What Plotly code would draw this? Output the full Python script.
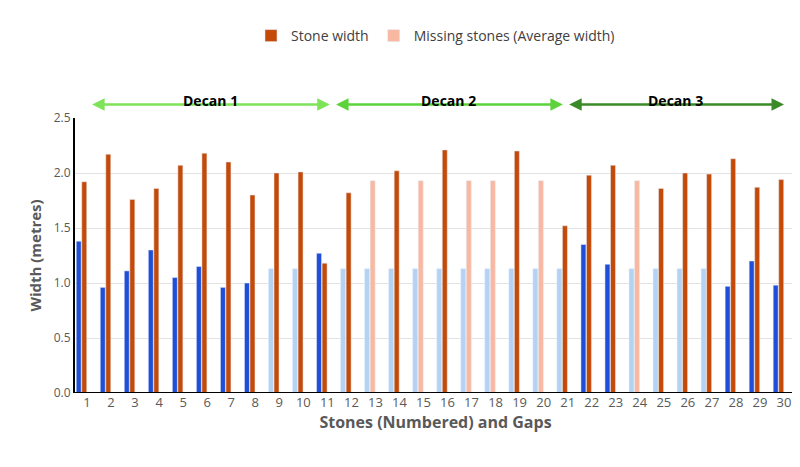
import plotly.graph_objects as go

stones = list(range(1, 31))
blue_vals = [1.38,0.96,1.11,1.30,1.05,1.15,0.96,1.00,1.13,1.13,1.27,1.13,1.13,1.13,1.13,
             1.13,1.13,1.13,1.13,1.13,1.13,1.35,1.17,1.13,1.13,1.13,1.13,0.97,1.20,0.98]
blue_missing = [0,0,0,0,0,0,0,0,1,1,0,1,1,1,1,1,1,1,1,1,1,0,0,1,1,1,1,0,0,0]
orange_vals = [1.92,2.17,1.76,1.86,2.07,2.18,2.10,1.80,2.00,2.01,1.18,1.82,1.93,2.02,1.93,
               2.21,1.93,1.93,2.20,1.93,1.52,1.98,2.07,1.93,1.86,2.00,1.99,2.13,1.87,1.94]
orange_missing = [0,0,0,0,0,0,0,0,0,0,0,0,1,0,1,0,1,1,0,1,0,0,0,1,0,0,0,0,0,0]
decans = [("Decan 1", 1.15, 11.1, "#7fe35a"), ("Decan 2", 11.3, 20.8, "#5cd33a"), ("Decan 3", 21.0, 30.0, "#3a8a28")]

ORANGE, SALMON = "#c44a0a", "#f9b8a2"
DBLUE, LBLUE = "#1f4fd8", "#b3d3f5"

fig = go.Figure()
fig.add_bar(x=stones, y=blue_vals, marker_color=[LBLUE if m else DBLUE for m in blue_missing],
            showlegend=False, hoverinfo="skip")
fig.add_bar(x=stones, y=orange_vals, marker_color=[SALMON if m else ORANGE for m in orange_missing],
            showlegend=False)
fig.add_bar(x=[None], y=[None], marker_color=ORANGE, name="Stone width")
fig.add_bar(x=[None], y=[None], marker_color=SALMON, name="Missing stones (Average width)")

for name, x0, x1, col in decans:
    fig.add_annotation(x=x1, y=1.049, ax=x0, ay=0, xref="x", yref="paper", axref="x", ayref="pixel",
                       text="", showarrow=True, arrowhead=2, startarrowhead=2, arrowside="end+start",
                       arrowwidth=2.5, arrowsize=1, startarrowsize=1, arrowcolor=col)
    fig.add_annotation(x=(x0 + x1) / 2, y=1.105, xref="x", yref="paper", text="<b>%s</b>" % name,
                       showarrow=False, font=dict(size=14, color="black"))

fig.update_layout(
    width=800, height=467, barmode="group", bargap=0.08, bargroupgap=0.1,
    margin=dict(l=67, r=12, t=98, b=82),
    paper_bgcolor="white", plot_bgcolor="white",
    font=dict(family="Open Sans", color="#595959"),
    legend=dict(orientation="h", x=0.5, xanchor="center", y=1.24, yanchor="bottom",
                font=dict(size=14, color="#404040"), traceorder="normal"),
    xaxis=dict(range=[0.5, 30.5], tickmode="array", tickvals=stones, ticks="",
               tickfont=dict(size=13, color="#595959"),
               title=dict(text="<b>Stones (Numbered) and Gaps</b>", font=dict(size=16, color="#595959"), standoff=6)),
    yaxis=dict(range=[0, 2.5], dtick=0.5, tickformat=".1f", gridcolor="#e3e3e3", showline=True,
               linecolor="black", linewidth=2, zeroline=False, tickfont=dict(size=12, color="#595959"),
               title=dict(text="<b>Width (metres)</b>", font=dict(size=15, color="#595959"), standoff=8)),
)
fig.add_shape(type="line", xref="paper", yref="y", x0=0, x1=1, y0=0, y1=0, line=dict(color="black", width=2))
fig.write_html("out.html")
